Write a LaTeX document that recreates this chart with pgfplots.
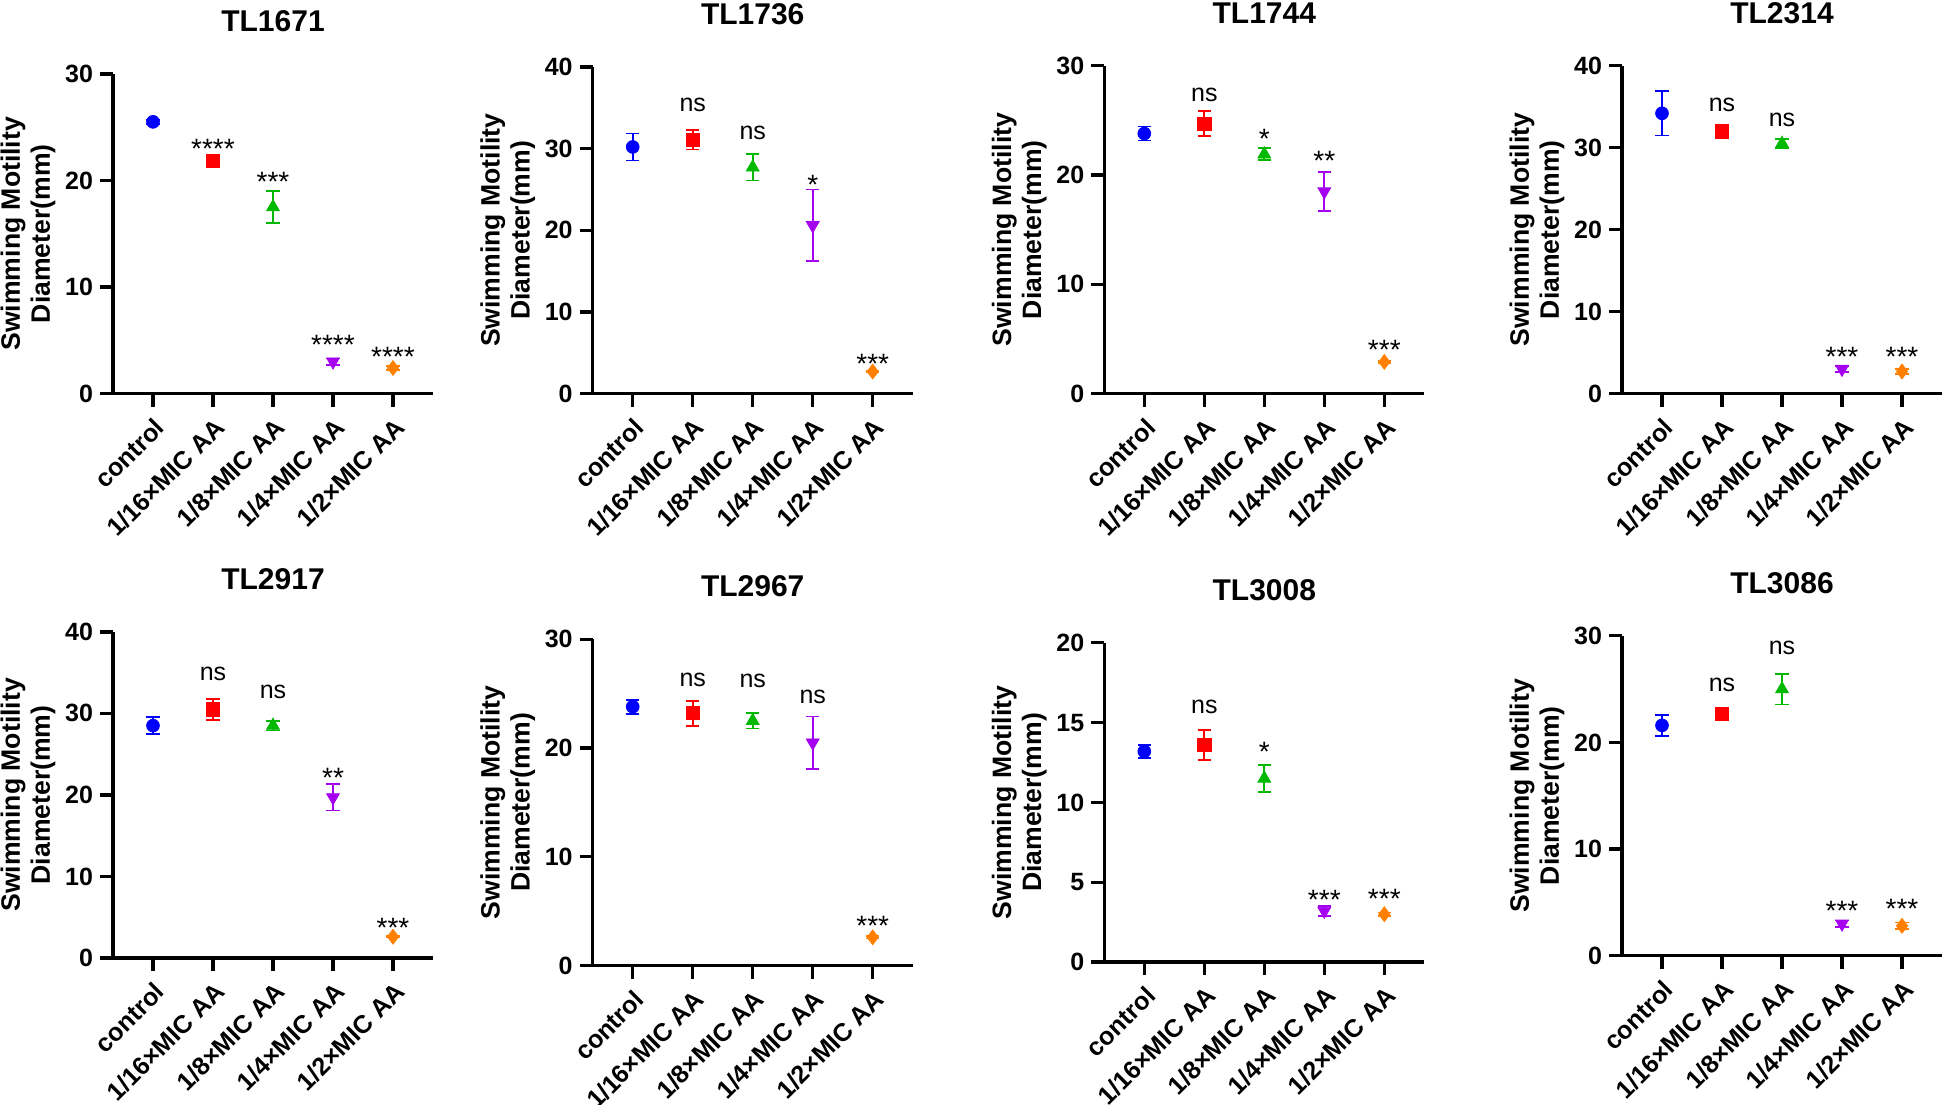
\documentclass[border=0pt]{standalone}
\usepackage{fontspec}
\setmainfont{Liberation Sans}
\usepackage{pgfplots}
\pgfplotsset{compat=1.18}
\definecolor{cblue}{RGB}{0,0,255}
\definecolor{cred}{RGB}{255,0,0}
\definecolor{cgreen}{RGB}{0,185,0}
\definecolor{cpurple}{RGB}{165,0,240}
\definecolor{corange}{RGB}{255,128,0}
\tikzset{
  ann/.style={font=\fontsize{12.5}{14}\selectfont, inner sep=0pt},
  st/.style={font=\fontsize{14}{16}\selectfont, inner sep=0pt, yshift=-3.2pt},
}
\pgfplotsset{
  panel/.style={
    scale only axis, width=160pt, anchor=south west,
    xmin=-0.6667, xmax=4.6667, ymin=0,
    axis lines*=left,
    axis line style={line width=1.65pt},
    every tick/.style={black, line width=1.65pt},
    tick align=outside, major tick length=6.5pt,
    xtick={0,1,2,3,4},
    xticklabels={control,1/16×MIC AA,1/8×MIC AA,1/4×MIC AA,1/2×MIC AA},
    x tick label style={rotate=45, anchor=north east, font=\bfseries\fontsize{12.6}{14}\selectfont},
    y tick label style={font=\bfseries\fontsize{12.5}{14}\selectfont},
    /pgf/number format/assume math mode=true,
    ylabel={Swimming Motility\\Diameter(mm)},
    ylabel style={at={(axis description cs:-0.2656,0.5)}, anchor=center, align=center, font=\bfseries\fontsize{13.3}{15}\selectfont},
    title style={at={(axis description cs:0.5,1)}, anchor=center, yshift=20.5pt, font=\bfseries\fontsize{15}{18}\selectfont},
    clip=false,
  },
  ebar/.style={error bars/y dir=both, error bars/y explicit,
    error bars/error bar style={line width=0.85pt, solid},
    error bars/error mark options={rotate=90, mark size=3.3pt, line width=0.85pt}},
  s0/.style={only marks, color=cblue, mark=*, mark size=3.2pt, ebar},
  s1/.style={only marks, color=cred, mark=square*, mark size=3.3pt, ebar},
  s2/.style={only marks, color=cgreen, mark=triangle*, mark size=3.7pt, ebar},
  s3/.style={only marks, color=cpurple, mark=triangle*, mark size=3.7pt, mark options={rotate=180}, ebar},
  s4/.style={only marks, color=corange, mark=diamond*, mark size=3.7pt, ebar},
}
\begin{document}
\begin{tikzpicture}
\useasboundingbox (0,0) rectangle (972pt,552pt);

% TL1671
\begin{axis}[panel, at={(56.5pt,355.2pt)}, height=159.85pt, ymax=30, ytick={0,10,20,30}, title={TL1671}]
\addplot[s0] coordinates {(0,25.5) +- (0,0.2)};
\addplot[s1] coordinates {(1,21.8) +- (0,0.2)};
\addplot[s2] coordinates {(2,17.5) +- (0,1.5)};
\addplot[s3] coordinates {(3,3.0) +- (0,0.3)};
\addplot[s4] coordinates {(4,2.4) +- (0,0.2)};
\node[st] at (axis cs:1,23.6) {****};
\node[st] at (axis cs:2,20.5) {***};
\node[st] at (axis cs:3,5.15) {****};
\node[st] at (axis cs:4,4.06) {****};
\end{axis}

% TL1736
\begin{axis}[panel, at={(296.35pt,355.2pt)}, height=163.35pt, ymax=40, ytick={0,10,20,30,40}, title={TL1736}]
\addplot[s0] coordinates {(0,30.2) +- (0,1.65)};
\addplot[s1] coordinates {(1,31.1) +- (0,1.2)};
\addplot[s2] coordinates {(2,27.7) +- (0,1.6)};
\addplot[s3] coordinates {(3,20.6) +- (0,4.4)};
\addplot[s4] coordinates {(4,2.7) +- (0,0.1)};
\node[ann] at (axis cs:1,35.3) {ns};
\node[ann] at (axis cs:2,31.9) {ns};
\node[st] at (axis cs:3,26.4) {*};
\node[st] at (axis cs:4,4.4) {***};
\end{axis}

% TL1744
\begin{axis}[panel, at={(552.15pt,355.2pt)}, height=163.9pt, ymax=30, ytick={0,10,20,30}, title={TL1744}]
\addplot[s0] coordinates {(0,23.8) +- (0,0.65)};
\addplot[s1] coordinates {(1,24.7) +- (0,1.15)};
\addplot[s2] coordinates {(2,21.9) +- (0,0.55)};
\addplot[s3] coordinates {(3,18.5) +- (0,1.8)};
\addplot[s4] coordinates {(4,2.9) +- (0,0.1)};
\node[ann] at (axis cs:1,27.3) {ns};
\node[st] at (axis cs:2,23.9) {*};
\node[st] at (axis cs:3,21.9) {**};
\node[st] at (axis cs:4,4.6) {***};
\end{axis}

% TL2314
\begin{axis}[panel, at={(811pt,355.2pt)}, height=163.9pt, ymax=40, ytick={0,10,20,30,40}, title={TL2314}]
\addplot[s0] coordinates {(0,34.2) +- (0,2.7)};
\addplot[s1] coordinates {(1,32.0) +- (0,0.1)};
\addplot[s2] coordinates {(2,30.5) +- (0,0.6)};
\addplot[s3] coordinates {(3,3.0) +- (0,0.4)};
\addplot[s4] coordinates {(4,2.7) +- (0,0.3)};
\node[ann] at (axis cs:1,35.2) {ns};
\node[ann] at (axis cs:2,33.4) {ns};
\node[st] at (axis cs:3,5.3) {***};
\node[st] at (axis cs:4,5.3) {***};
\end{axis}

% TL2917
\begin{axis}[panel, at={(56.5pt,73.05pt)}, height=163pt, ymax=40, ytick={0,10,20,30,40}, title={TL2917}]
\addplot[s0] coordinates {(0,28.5) +- (0,1.05)};
\addplot[s1] coordinates {(1,30.5) +- (0,1.3)};
\addplot[s2] coordinates {(2,28.5) +- (0,0.6)};
\addplot[s3] coordinates {(3,19.7) +- (0,1.6)};
\addplot[s4] coordinates {(4,2.6) +- (0,0.1)};
\node[ann] at (axis cs:1,34.8) {ns};
\node[ann] at (axis cs:2,32.6) {ns};
\node[st] at (axis cs:3,22.9) {**};
\node[st] at (axis cs:4,4.45) {***};
\end{axis}

% TL2967
\begin{axis}[panel, at={(296.35pt,69.2pt)}, height=163.15pt, ymax=30, ytick={0,10,20,30}, title={TL2967}]
\addplot[s0] coordinates {(0,23.8) +- (0,0.65)};
\addplot[s1] coordinates {(1,23.2) +- (0,1.15)};
\addplot[s2] coordinates {(2,22.5) +- (0,0.7)};
\addplot[s3] coordinates {(3,20.5) +- (0,2.4)};
\addplot[s4] coordinates {(4,2.6) +- (0,0.1)};
\node[ann] at (axis cs:1,26.3) {ns};
\node[ann] at (axis cs:2,26.2) {ns};
\node[ann] at (axis cs:3,24.7) {ns};
\node[st] at (axis cs:4,4.2) {***};
\end{axis}

% TL3008
\begin{axis}[panel, at={(552.15pt,70.95pt)}, height=159.65pt, ymax=20, ytick={0,5,10,15,20}, title={TL3008}]
\addplot[s0] coordinates {(0,13.2) +- (0,0.4)};
\addplot[s1] coordinates {(1,13.6) +- (0,0.95)};
\addplot[s2] coordinates {(2,11.5) +- (0,0.85)};
\addplot[s3] coordinates {(3,3.2) +- (0,0.3)};
\addplot[s4] coordinates {(4,3.0) +- (0,0.1)};
\node[ann] at (axis cs:1,16.0) {ns};
\node[st] at (axis cs:2,13.6) {*};
\node[st] at (axis cs:3,4.3) {***};
\node[st] at (axis cs:4,4.35) {***};
\end{axis}

% TL3086
\begin{axis}[panel, at={(811pt,74.15pt)}, height=159.95pt, ymax=30, ytick={0,10,20,30}, title={TL3086}]
\addplot[s0] coordinates {(0,21.6) +- (0,1.0)};
\addplot[s1] coordinates {(1,22.7) +- (0,0.1)};
\addplot[s2] coordinates {(2,25.0) +- (0,1.45)};
\addplot[s3] coordinates {(3,3.0) +- (0,0.3)};
\addplot[s4] coordinates {(4,2.8) +- (0,0.3)};
\node[ann] at (axis cs:1,25.4) {ns};
\node[ann] at (axis cs:2,28.9) {ns};
\node[st] at (axis cs:3,4.85) {***};
\node[st] at (axis cs:4,5.0) {***};
\end{axis}
\end{tikzpicture}
\end{document}
